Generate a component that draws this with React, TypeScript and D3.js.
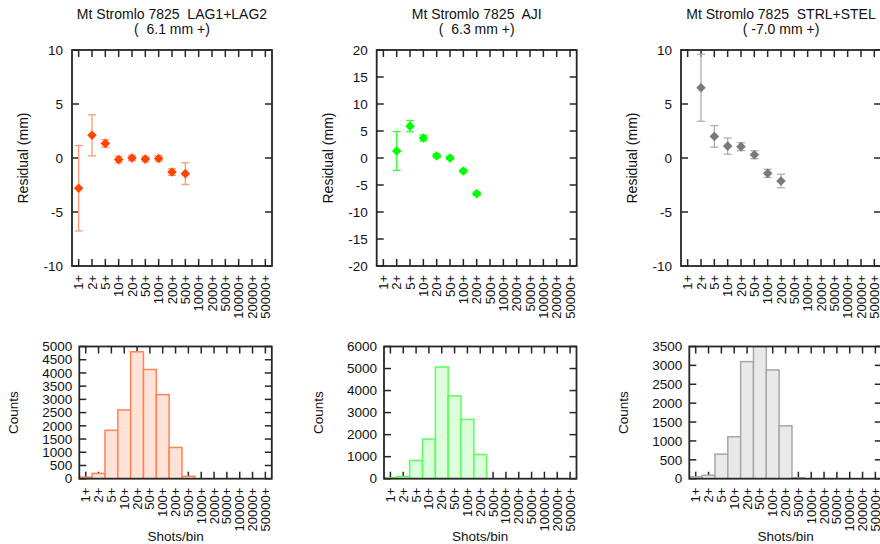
import * as d3 from "d3";

// bins of shots per normal point
const bins = ["1+", "2+", "5+", "10+", "20+", "50+", "100+", "200+", "500+", "1000+", "2000+", "5000+", "10000+", "20000+", "50000+"];

// residuals (mm) and error half-widths, null = no data
const lagRes = [-2.8, 2.1, 1.35, -0.15, 0.0, -0.1, -0.05, -1.3, -1.45, null, null, null, null, null, null];
const lagErr = [3.95, 1.9, 0.35, 0.3, 0.25, 0.25, 0.25, 0.3, 1.0, null, null, null, null, null, null];
const ajiRes = [null, 1.3, 5.9, 3.7, 0.4, 0.0, -2.4, -6.6, null, null, null, null, null, null, null];
const ajiErr = [null, 3.6, 1.05, 0.55, 0.35, 0.3, 0.3, 0.3, null, null, null, null, null, null, null];
const stlRes = [null, 6.5, 2.0, 1.1, 1.05, 0.3, -1.42, -2.13, null, null, null, null, null, null, null];
const stlErr = [null, 3.1, 1.0, 0.75, 0.37, 0.37, 0.38, 0.63, null, null, null, null, null, null, null];

// counts per bin
const lagCounts = [60, 200, 1830, 2600, 4800, 4130, 3180, 1180, 90, 0, 0, 0, 0, 0, 0];
const ajiCounts = [40, 100, 830, 1800, 5070, 3760, 2690, 1100, 0, 0, 0, 0, 0, 0, 0];
const stlCounts = [50, 90, 650, 1110, 3100, 3600, 2880, 1400, 25, 0, 0, 0, 0, 0, 0];

const titles = ["Mt Stromlo 7825  LAG1+LAG2", "Mt Stromlo 7825  AJI", "Mt Stromlo 7825  STRL+STEL"];
const subtitles = ["(  6.1 mm +)", "(  6.3 mm +)", "( -7.0 mm +)"];

const FONT = "'Liberation Sans', Arial, Helvetica, sans-serif";
const AXIS = "#262626";

const panels = [
  { res: lagRes, err: lagErr, counts: lagCounts, resMax: 10, cntMax: 5000, cntStep: 500, mark: "#ff4500", errCol: "#ff9a78", fill: "#ffe3d8", edge: "#ff8455" },
  { res: ajiRes, err: ajiErr, counts: ajiCounts, resMax: 20, cntMax: 6000, cntStep: 1000, mark: "#00ff00", errCol: "#33ff33", fill: "#dcffdc", edge: "#5cff5c" },
  { res: stlRes, err: stlErr, counts: stlCounts, resMax: 10, cntMax: 3500, cntStep: 500, mark: "#7a7a7a", errCol: "#b0b0b0", fill: "#e9e9e9", edge: "#a8a8a8" },
];

const topLeft = [72, 376.7, 681];
const botLeft = [79.3, 384, 689.3];
const TOP = { y0: 50, y1: 266, w: 200 };
const BOT = { y0: 346.5, y1: 478.7, w: 192.5 };

function XTicks({ x, y0, y1, labelY }: any) {
  return (
    <g>
      {bins.map((b) => {
        const cx = x(b) + x.bandwidth() / 2;
        return (
          <g key={b}>
            <line x1={cx} x2={cx} y1={y0} y2={y0 + 7} stroke={AXIS} strokeWidth={1.5} />
            <line x1={cx} x2={cx} y1={y1} y2={y1 - 7} stroke={AXIS} strokeWidth={1.5} />
            <text transform={`translate(${cx},${labelY}) rotate(-90)`} textAnchor="end" dy="0.35em" fontSize={13} fill="#111">{b}</text>
          </g>
        );
      })}
    </g>
  );
}

function YTicks({ y, ticks, left, right, gap }: any) {
  return (
    <g>
      {ticks.map((t: number) => (
        <g key={t}>
          <line x1={left} x2={left + 7} y1={y(t)} y2={y(t)} stroke={AXIS} strokeWidth={1.5} />
          <line x1={right} x2={right - 7} y1={y(t)} y2={y(t)} stroke={AXIS} strokeWidth={1.5} />
          <text x={left - gap} y={y(t)} dy="0.35em" textAnchor="end" fontSize={13.5} fill="#111">{String(t)}</text>
        </g>
      ))}
    </g>
  );
}

function ResidualPanel({ i }: { i: number }) {
  const p = panels[i];
  const left = topLeft[i];
  const right = left + TOP.w;
  const x = d3.scaleBand<string>().domain(bins).range([left, right]);
  const y = d3.scaleLinear().domain([-p.resMax, p.resMax]).range([TOP.y1, TOP.y0]);
  const ticks = d3.range(-p.resMax, p.resMax + 1, 5);
  const cxm = (left + right) / 2;
  const sym = d3.symbol(d3.symbolSquare, 46)();
  return (
    <g>
      <text x={cxm} y={19} textAnchor="middle" fontSize={14} fill="#111" style={{ whiteSpace: "pre" }}>{titles[i]}</text>
      <text x={cxm} y={33.5} textAnchor="middle" fontSize={14} fill="#111" style={{ whiteSpace: "pre" }}>{subtitles[i]}</text>
      <XTicks x={x} y0={TOP.y0} y1={TOP.y1} labelY={TOP.y1 + 9} />
      <YTicks y={y} ticks={ticks} left={left} right={right} gap={9} />
      <text transform={`translate(${left - 49},${(TOP.y0 + TOP.y1) / 2}) rotate(-90)`} textAnchor="middle" dy="0.35em" fontSize={14} fill="#111">Residual (mm)</text>
      {bins.map((b, k) => {
        const v = p.res[k];
        const e = p.err[k];
        if (v == null || e == null) return null;
        const cx = x(b)! + x.bandwidth() / 2;
        const hi = y(Math.min(v + e, p.resMax));
        const lo = y(v - e);
        return (
          <g key={b}>
            <line x1={cx} x2={cx} y1={hi} y2={lo} stroke={p.errCol} strokeWidth={1.3} />
            {v + e <= p.resMax && <line x1={cx - 4} x2={cx + 4} y1={hi} y2={hi} stroke={p.errCol} strokeWidth={1.3} />}
            <line x1={cx - 4} x2={cx + 4} y1={lo} y2={lo} stroke={p.errCol} strokeWidth={1.3} />
            <path d={sym!} transform={`translate(${cx},${y(v)}) rotate(45)`} fill={p.mark} />
          </g>
        );
      })}
      <rect x={left} y={TOP.y0} width={TOP.w} height={TOP.y1 - TOP.y0} fill="none" stroke={AXIS} strokeWidth={1.8} />
    </g>
  );
}

function HistPanel({ i }: { i: number }) {
  const p = panels[i];
  const left = botLeft[i];
  const right = left + BOT.w;
  const x = d3.scaleBand<string>().domain(bins).range([left, right]);
  const y = d3.scaleLinear().domain([0, p.cntMax]).range([BOT.y1, BOT.y0]);
  const ticks = d3.range(0, p.cntMax + 1, p.cntStep);
  const id = `clip${i}`;
  return (
    <g>
      <defs>
        <clipPath id={id}>
          <rect x={left} y={BOT.y0} width={BOT.w} height={BOT.y1 - BOT.y0} />
        </clipPath>
      </defs>
      <XTicks x={x} y0={BOT.y0} y1={BOT.y1} labelY={BOT.y1 + 9} />
      <YTicks y={y} ticks={ticks} left={left} right={right} gap={7} />
      <g clipPath={`url(#${id})`}>
        {bins.map((b, k) => {
          const c = p.counts[k];
          if (!c) return null;
          return (
            <rect key={b} x={x(b)} y={y(c)} width={x.bandwidth()} height={y(0) - y(c)} fill={p.fill} stroke={p.edge} strokeWidth={1.5} />
          );
        })}
      </g>
      <text transform={`translate(${left - 66},${(BOT.y0 + BOT.y1) / 2}) rotate(-90)`} textAnchor="middle" dy="0.35em" fontSize={13.5} fill="#111">Counts</text>
      <text x={(left + right) / 2} y={541} textAnchor="middle" fontSize={13.5} fill="#111">Shots/bin</text>
      <rect x={left} y={BOT.y0} width={BOT.w} height={BOT.y1 - BOT.y0} fill="none" stroke={AXIS} strokeWidth={1.8} />
    </g>
  );
}

export default function App() {
  return (
    <svg width={880} height={544} style={{ position: "absolute", left: 0, top: 0, background: "#fff" }} fontFamily={FONT}>
      <rect width={880} height={544} fill="#fff" />
      {panels.map((_, i) => (
        <g key={i}>
          <ResidualPanel i={i} />
          <HistPanel i={i} />
        </g>
      ))}
    </svg>
  );
}
